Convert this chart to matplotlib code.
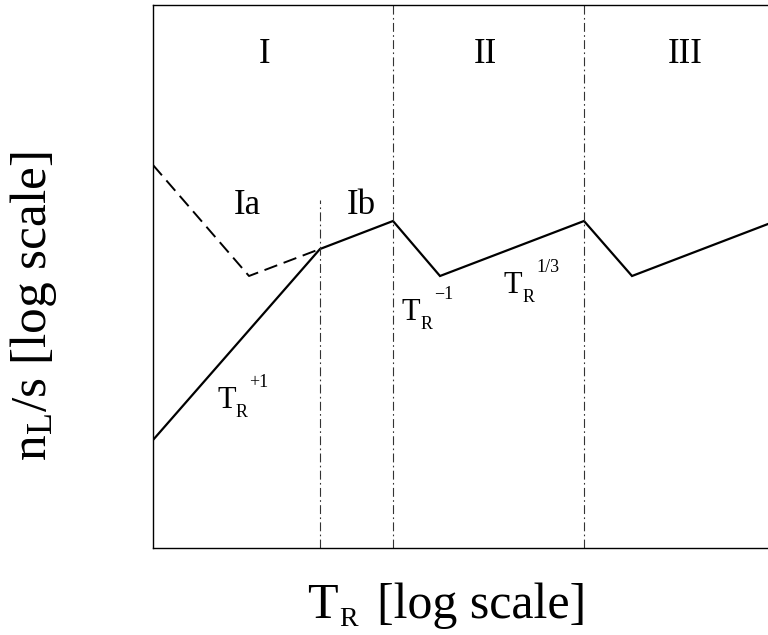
import matplotlib
matplotlib.use("Agg")
import matplotlib.pyplot as plt

plt.rcParams['font.family'] = ['Liberation Serif', 'DejaVu Serif']
plt.rcParams['mathtext.fontset'] = 'custom'
plt.rcParams['mathtext.rm'] = 'Liberation Serif'
plt.rcParams['mathtext.it'] = 'Liberation Serif:italic'

# Data (arbitrary log units)
solid_x = [0, 167, 240, 287, 431, 479, 615]
solid_y = [108, 299, 327, 272, 327, 272, 324]
dashed_x = [0, 96, 167]
dashed_y = [383, 272, 299]
boundaries_full = [240, 431]
boundary_partial = 167
boundary_partial_top = 348
region_labels = ["I", "II", "III"]
region_x = [112, 332, 532]
sub_labels = ["Ia", "Ib"]
sub_x = [94, 208]
power_exps = ["\u22121", "1/3", "+1"]

fig = plt.figure(figsize=(7.68, 6.35), dpi=100)
ax = fig.add_axes([153/768, 1-548/635, 1-153/768, 543/635])
ax.set_xlim(0, 615)
ax.set_ylim(0, 543)
ax.set_xticks([])
ax.set_yticks([])
ax.spines['right'].set_visible(False)
for s in ['left', 'top', 'bottom']:
    ax.spines[s].set_linewidth(1.0)

ax.plot(solid_x, solid_y, color='black', lw=1.6, solid_joinstyle='miter')
ax.plot(dashed_x, dashed_y, color='black', lw=1.4, dashes=(7, 3.5))
for xb in boundaries_full:
    ax.axvline(xb, color='#333333', lw=0.8, dashes=(8, 3, 1.5, 3))
ax.plot([boundary_partial, boundary_partial], [0, boundary_partial_top],
        color='#333333', lw=0.8, dashes=(8, 3, 1.5, 3))

for lab, x in zip(region_labels, region_x):
    ax.text(x, 494, lab, fontsize=25, ha='center', va='center')
for lab, x in zip(sub_labels, sub_x):
    ax.text(x, 343, lab, fontsize=25, ha='center', va='center')

def power_label(xT, yT, exp):
    # xT, yT in pixel coords of the figure (top-left origin)
    fig.text(xT/768, 1-yT/635, "T", fontsize=22, ha='left', va='baseline')
    fig.text((xT+19)/768, 1-(yT+9)/635, "R", fontsize=13, ha='left', va='baseline')
    fig.text((xT+32)/768, 1-(yT-21)/635, exp, fontsize=13, ha='left', va='baseline')

power_label(402, 320, power_exps[0])
power_label(504, 293, power_exps[1])
power_label(217, 408, power_exps[2])

# x label built from pieces to mimic the low subscript
fig.text(307/768, 1-618/635, "T", fontsize=36, ha='left', va='baseline')
fig.text(339/768, 1-626/635, "R", fontsize=20, ha='left', va='baseline')
fig.text(377/768, 1-618/635, "[log scale]", fontsize=36, ha='left', va='baseline')

fig.text(34/768, 1-306/635, r"n$_{\mathrm{L}}$/s [log scale]", fontsize=37,
         ha='center', va='center', rotation=90)

fig.savefig("out.png", dpi=100)
